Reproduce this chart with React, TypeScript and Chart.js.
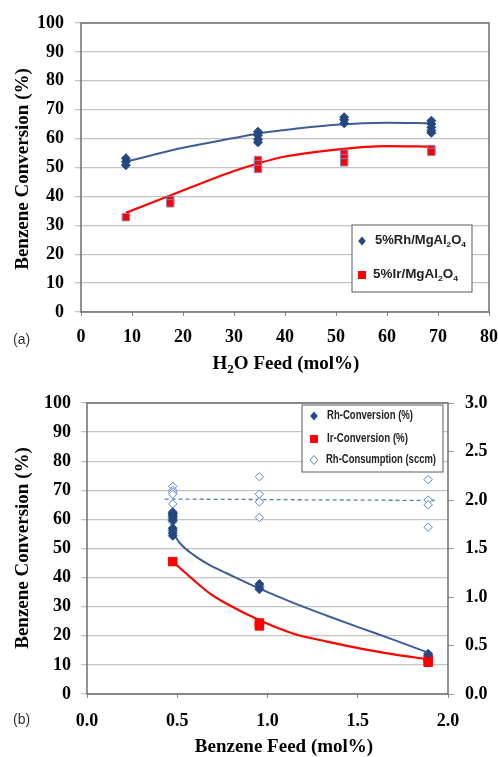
import React, { useEffect, useRef } from 'react';
import { Chart, registerables } from 'chart.js';
Chart.register(...registerables);

// ---------- Panel (a): benzene conversion vs H2O feed ----------
const h2oFeedRh = [8.8, 8.8, 8.8, 34.7, 34.7, 34.7, 34.7, 51.6, 51.6, 51.6, 68.7, 68.7, 68.7, 68.7, 68.7];
const rhConvA = [53.2, 52.0, 50.8, 62.4, 61.2, 59.8, 58.7, 67.4, 66.5, 65.3, 66.2, 65.1, 63.9, 62.8, 62.0];
const h2oFeedIr = [8.8, 17.5, 17.5, 34.7, 34.7, 34.7, 51.6, 51.6, 51.6, 68.7, 68.7];
const irConvA = [32.8, 38.8, 37.6, 52.6, 51.2, 49.5, 54.8, 53.3, 51.8, 56.4, 55.4];
const rhFitXA = [8.8, 20, 30, 34.7, 40, 50, 60, 68.8];
const rhFitYA = [52.0, 56.8, 60.2, 61.8, 63.0, 64.8, 65.5, 65.3];
const irFitXA = [8.8, 17.5, 30, 34.7, 40, 50, 60, 68.8];
const irFitYA = [34.3, 40.3, 48.8, 51.4, 53.8, 56.2, 57.4, 57.2];
const xTicksA = [0, 10, 20, 30, 40, 50, 60, 70, 80];

// ---------- Panel (b): benzene conversion vs benzene feed ----------
const feedRhB = [0.475, 0.475, 0.475, 0.475, 0.475, 0.475, 0.475, 0.475, 0.475, 0.475, 0.955, 0.955, 0.955, 1.89];
const rhConvB = [62.5, 62.0, 61.5, 61.0, 60.3, 59.6, 57.0, 56.2, 55.3, 54.4, 37.8, 36.9, 36.0, 13.8];
const feedIrB = [0.475, 0.955, 0.955, 1.89, 1.89];
const irConvB = [45.5, 24.4, 23.4, 12.0, 10.9];
const feedConsB = [0.475, 0.475, 0.475, 0.475, 0.475, 0.475, 0.955, 0.955, 0.955, 0.955, 1.89, 1.89, 1.89, 1.89];
const rhConsB = [2.14, 2.10, 2.08, 2.06, 1.96, 1.77, 2.24, 2.06, 1.98, 1.82, 2.21, 2.00, 1.95, 1.72];
const rhFitXB = [0.475, 0.515, 0.59, 0.68, 0.774, 0.953, 1.14, 1.33, 1.51, 1.70, 1.89];
const rhFitYB = [55.5, 51.8, 47.8, 44.3, 41.5, 36.3, 31.4, 26.9, 22.8, 18.6, 14.2];
const irFitXB = [0.475, 0.59, 0.68, 0.774, 0.953, 1.14, 1.33, 1.51, 1.70, 1.89];
const irFitYB = [45.5, 39.2, 34.6, 31.0, 25.4, 20.8, 18.0, 15.7, 13.6, 11.9];
const consFitXB = [0.43, 1.93];
const consFitYB = [2.01, 1.995];

const SERIF = '"Liberation Serif", "Times New Roman", serif';
const SANS = '"Liberation Sans", Arial, sans-serif';
const RH_BLUE = '#24487f';
const RH_LINE = '#3b5e98';
const IR_RED = '#ff0000';
const CONS_BLUE = '#5a86c8';
const GRID = '#c4c4c4';

const pts = (xs: number[], ys: number[]) => xs.map((x, i) => ({ x, y: ys[i] }));

type Part = { t: string; sub?: boolean };

function drawParts(ctx: CanvasRenderingContext2D, parts: Part[], x: number, y: number, size: number,
  weight: string, family: string, align: 'left' | 'center', color: string, targetW?: number) {
  const subSize = Math.round(size * 0.66);
  let total = 0;
  const widths = parts.map((p) => {
    ctx.font = `${weight} ${p.sub ? subSize : size}px ${family}`;
    const w = ctx.measureText(p.t).width;
    total += w;
    return w;
  });
  const sx = targetW ? targetW / total : 1;
  ctx.save();
  ctx.translate(x, y);
  ctx.scale(sx, 1);
  let cx = align === 'center' ? -total / 2 : 0;
  ctx.textBaseline = 'middle';
  ctx.textAlign = 'left';
  ctx.fillStyle = color;
  parts.forEach((p, i) => {
    ctx.font = `${weight} ${p.sub ? subSize : size}px ${family}`;
    ctx.fillText(p.t, cx, p.sub ? size * 0.3 : 0);
    cx += widths[i];
  });
  ctx.restore();
}

function marker(ctx: CanvasRenderingContext2D, kind: string, x: number, y: number) {
  ctx.save();
  ctx.beginPath();
  if (kind === 'square') {
    ctx.rect(x - 4, y - 4, 8, 8);
    ctx.fillStyle = IR_RED;
    ctx.fill();
  } else {
    const r = 4.5;
    ctx.moveTo(x, y - r);
    ctx.lineTo(x + r * 0.85, y);
    ctx.lineTo(x, y + r);
    ctx.lineTo(x - r * 0.85, y);
    ctx.closePath();
    if (kind === 'diamond') {
      ctx.fillStyle = RH_BLUE;
      ctx.fill();
    } else {
      ctx.fillStyle = '#fff';
      ctx.fill();
      ctx.strokeStyle = CONS_BLUE;
      ctx.lineWidth = 1;
      ctx.stroke();
    }
  }
  ctx.restore();
}

type LegendEntry = { kind: string; mx: number; y: number; tx: number; parts: Part[]; w: number };
type Decor = {
  yTitleX: number; yTitleY: number; xTitle: Part[]; xTitleX: number; xTitleY: number;
  panel: string; panelY: number;
  box: { x: number; y: number; w: number; h: number };
  entries: LegendEntry[]; legendSize: number;
};

const makeDecor = (d: Decor) => ({
  id: 'decor',
  afterDraw(chart: any) {
    const ctx: CanvasRenderingContext2D = chart.ctx;
    const a = chart.chartArea;
    ctx.save();
    ctx.strokeStyle = '#6e6e6e';
    ctx.lineWidth = 1.5;
    ctx.strokeRect(a.left, a.top, a.right - a.left, a.bottom - a.top);
    // y title
    ctx.save();
    ctx.translate(d.yTitleX, d.yTitleY);
    ctx.rotate(-Math.PI / 2);
    drawParts(ctx, [{ t: 'Benzene Conversion (%)' }], 0, 0, 19, 'bold', SERIF, 'center', '#000');
    ctx.restore();
    // x title
    drawParts(ctx, d.xTitle, d.xTitleX, d.xTitleY, 19, 'bold', SERIF, 'center', '#000');
    // panel label
    drawParts(ctx, [{ t: d.panel }], 13, d.panelY, 14, 'normal', SANS, 'left', '#333');
    // legend
    const b = d.box;
    ctx.fillStyle = '#fff';
    ctx.fillRect(b.x, b.y, b.w, b.h);
    ctx.strokeStyle = '#777';
    ctx.lineWidth = 1.2;
    ctx.strokeRect(b.x, b.y, b.w, b.h);
    d.entries.forEach((e) => {
      marker(ctx, e.kind, e.mx, e.y);
      drawParts(ctx, e.parts, e.tx, e.y, d.legendSize, 'bold', SANS, 'left', '#222', e.w);
    });
    ctx.restore();
  },
});

const tickFont = { family: SERIF, weight: 'bold' as const, size: 18 };

const fixBox = (dim: 'width' | 'height', v: number) => (s: any) => {
  s[dim] = v;
  s.paddingLeft = 0;
  s.paddingRight = 0;
  s.paddingTop = 0;
  s.paddingBottom = 0;
};

function configA(): any {
  return {
    type: 'scatter',
    data: {
      datasets: [
        { type: 'scatter', data: pts(h2oFeedRh, rhConvA), pointStyle: 'rectRot', pointRadius: 4.5,
          backgroundColor: RH_BLUE, borderColor: RH_BLUE, borderWidth: 1, order: 0 },
        { type: 'scatter', data: pts(h2oFeedIr, irConvA), pointStyle: 'rect', pointRadius: 5.2,
          backgroundColor: IR_RED, borderColor: '#8c7fbf', borderWidth: 1, order: 0 },
        { type: 'line', data: pts(rhFitXA, rhFitYA), showLine: true, pointRadius: 0, borderColor: RH_LINE,
          borderWidth: 2, cubicInterpolationMode: 'monotone', fill: false, order: 1 },
        { type: 'line', data: pts(irFitXA, irFitYA), showLine: true, pointRadius: 0, borderColor: IR_RED,
          borderWidth: 2.2, cubicInterpolationMode: 'monotone', fill: false, order: 1 },
      ],
    },
    options: {
      responsive: false,
      animation: false,
      devicePixelRatio: 1,
      layout: { padding: { left: 0, top: 23, right: 9, bottom: 0 } },
      plugins: { legend: { display: false }, tooltip: { enabled: false } },
      scales: {
        x: {
          type: 'linear', min: 0, max: 80,
          afterBuildTicks: (s: any) => { s.ticks = xTicksA.map((v) => ({ value: v })); },
          ticks: { font: tickFont, color: '#000', padding: 11, maxRotation: 0, autoSkip: false },
          grid: { drawOnChartArea: false, tickLength: 4, tickColor: '#888', lineWidth: 1 },
          border: { display: false },
          afterFit: fixBox('height', 68),
        },
        y: {
          type: 'linear', min: 0, max: 100,
          ticks: { stepSize: 10, font: tickFont, color: '#000', padding: 11 },
          grid: { color: GRID, lineWidth: 1.3, tickLength: 6, tickColor: GRID },
          border: { display: false },
          afterFit: fixBox('width', 81),
        },
      },
    },
    plugins: [makeDecor({
      yTitleX: 23, yTitleY: 169,
      xTitle: [{ t: 'H' }, { t: '2', sub: true }, { t: 'O Feed (mol%)' }], xTitleX: 286, xTitleY: 364,
      panel: '(a)', panelY: 340,
      box: { x: 352, y: 225, w: 120, h: 67 },
      legendSize: 12.5,
      entries: [
        { kind: 'diamond', mx: 362, y: 241, tx: 375, w: 91,
          parts: [{ t: '5%Rh/MgAl' }, { t: '2', sub: true }, { t: 'O' }, { t: '4', sub: true }] },
        { kind: 'square', mx: 362, y: 275, tx: 373, w: 85,
          parts: [{ t: '5%Ir/MgAl' }, { t: '2', sub: true }, { t: 'O' }, { t: '4', sub: true }] },
      ],
    })],
  };
}

function configB(): any {
  return {
    type: 'scatter',
    data: {
      datasets: [
        { type: 'scatter', data: pts(feedRhB, rhConvB), pointStyle: 'rectRot', pointRadius: 4.5,
          backgroundColor: RH_BLUE, borderColor: RH_BLUE, borderWidth: 1, yAxisID: 'y', order: 0 },
        { type: 'scatter', data: pts(feedIrB, irConvB), pointStyle: 'rect', pointRadius: 6,
          backgroundColor: IR_RED, borderColor: IR_RED, borderWidth: 1, yAxisID: 'y', order: 0 },
        { type: 'scatter', data: pts(feedConsB, rhConsB), pointStyle: 'rectRot', pointRadius: 4.2,
          backgroundColor: '#fff', borderColor: CONS_BLUE, borderWidth: 1, yAxisID: 'y2', order: 0 },
        { type: 'line', data: pts(rhFitXB, rhFitYB), showLine: true, pointRadius: 0, borderColor: RH_LINE,
          borderWidth: 2, cubicInterpolationMode: 'monotone', fill: false, yAxisID: 'y', order: 1 },
        { type: 'line', data: pts(irFitXB, irFitYB), showLine: true, pointRadius: 0, borderColor: IR_RED,
          borderWidth: 2.2, cubicInterpolationMode: 'monotone', fill: false, yAxisID: 'y', order: 1 },
        { type: 'line', data: pts(consFitXB, consFitYB), showLine: true, pointRadius: 0, borderColor: '#4a7cc4',
          borderWidth: 1.3, borderDash: [4, 3], fill: false, yAxisID: 'y2', order: 1 },
      ],
    },
    options: {
      responsive: false,
      animation: false,
      devicePixelRatio: 1,
      layout: { padding: { left: 0, top: 23, right: 0, bottom: 0 } },
      plugins: { legend: { display: false }, tooltip: { enabled: false } },
      scales: {
        x: {
          type: 'linear', min: 0, max: 2,
          ticks: { stepSize: 0.5, font: tickFont, color: '#000', padding: 13, maxRotation: 0,
            callback: (v: any) => Number(v).toFixed(1) },
          grid: { drawOnChartArea: false, tickLength: 4, tickColor: '#888' },
          border: { display: false },
          afterFit: fixBox('height', 63),
        },
        y: {
          type: 'linear', position: 'left', min: 0, max: 100,
          ticks: { stepSize: 10, font: tickFont, color: '#000', padding: 10 },
          grid: { color: GRID, lineWidth: 1.3, tickLength: 6, tickColor: GRID },
          border: { display: false },
          afterFit: fixBox('width', 87),
        },
        y2: {
          type: 'linear', position: 'right', min: 0, max: 3,
          ticks: { stepSize: 0.5, font: tickFont, color: '#000', padding: 11,
            callback: (v: any) => Number(v).toFixed(1) },
          grid: { drawOnChartArea: false, tickLength: 6, tickColor: '#999' },
          border: { display: false },
          afterFit: fixBox('width', 50),
        },
      },
    },
    plugins: [makeDecor({
      yTitleX: 23, yTitleY: 168,
      xTitle: [{ t: 'Benzene Feed (mol%)' }], xTitleX: 284, xTitleY: 367,
      panel: '(b)', panelY: 340,
      box: { x: 302, y: 25, w: 141, h: 67 },
      legendSize: 12,
      entries: [
        { kind: 'diamond', mx: 314, y: 36, tx: 327, w: 86, parts: [{ t: 'Rh-Conversion (%)' }] },
        { kind: 'square', mx: 314, y: 59, tx: 327, w: 81, parts: [{ t: 'Ir-Conversion (%)' }] },
        { kind: 'hollow', mx: 314, y: 80, tx: 326, w: 110, parts: [{ t: 'Rh-Consumption (sccm)' }] },
      ],
    })],
  };
}

export default function App() {
  const refA = useRef<HTMLCanvasElement>(null);
  const refB = useRef<HTMLCanvasElement>(null);
  useEffect(() => {
    const a = new Chart(refA.current as HTMLCanvasElement, configA());
    const b = new Chart(refB.current as HTMLCanvasElement, configB());
    return () => { a.destroy(); b.destroy(); };
  }, []);
  return (
    <div style={{ position: 'absolute', left: 0, top: 0, width: 498, height: 757, background: '#fff' }}>
      <canvas ref={refA} width={498} height={380}
        style={{ position: 'absolute', left: 0, top: 0, width: 498, height: 380 }} />
      <canvas ref={refB} width={498} height={377}
        style={{ position: 'absolute', left: 0, top: 380, width: 498, height: 377 }} />
    </div>
  );
}
